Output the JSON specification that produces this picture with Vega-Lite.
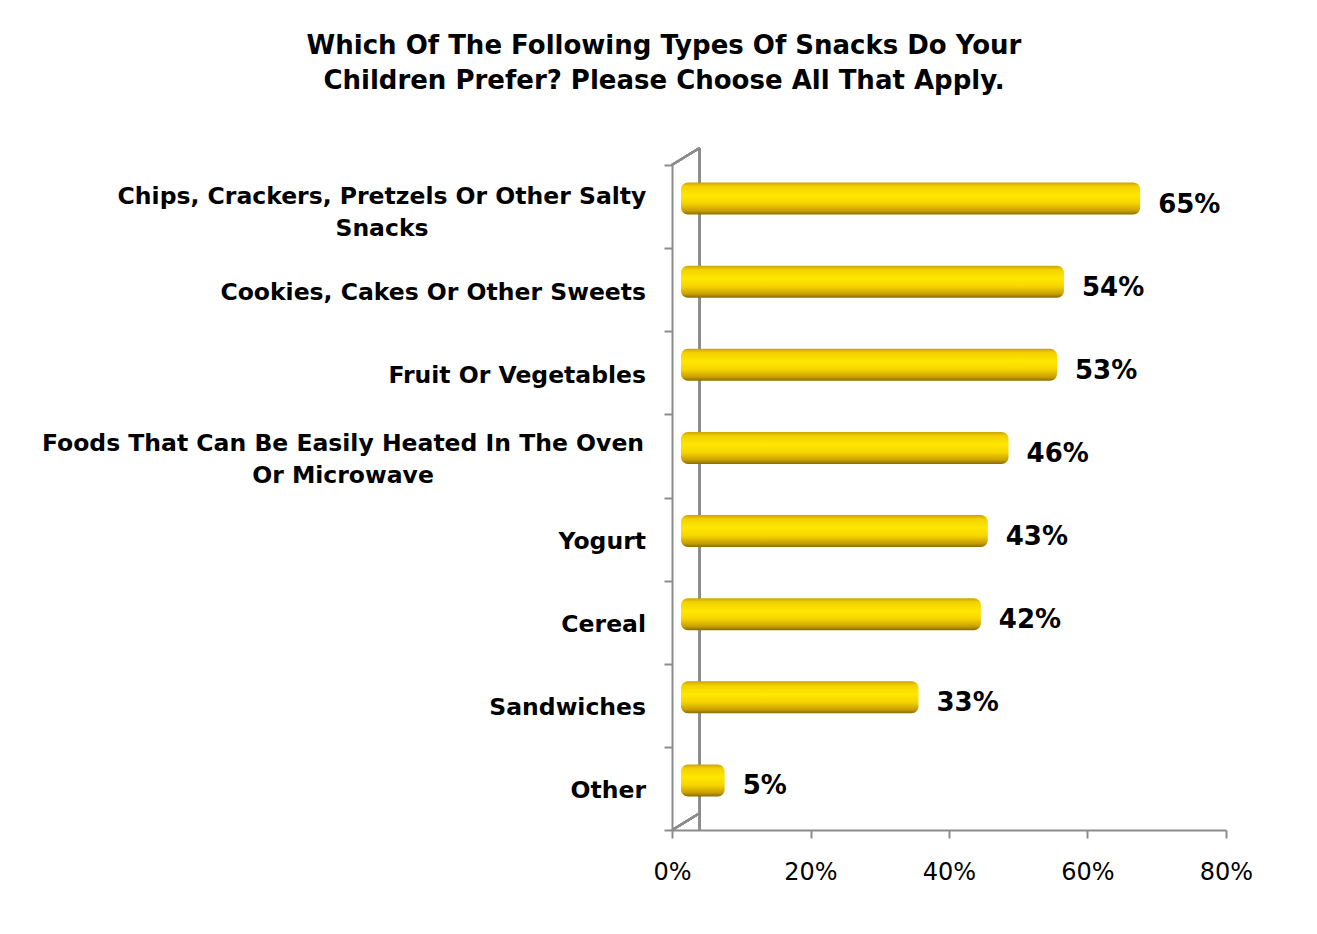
{
  "$schema": "https://vega.github.io/schema/vega-lite/v6.json",
  "width": 554,
  "height": 665,
  "autosize": {"type": "none"},
  "padding": {"left": 672, "top": 165, "right": 91, "bottom": 104},
  "background": "white",
  "title": {
    "text": ["Which Of The Following Types Of Snacks Do Your", "Children Prefer?  Please Choose All That Apply."],
    "font": "DejaVu Sans",
    "fontWeight": "bold",
    "fontSize": 26,
    "lineHeight": 35,
    "color": "black",
    "anchor": "middle",
    "frame": "group",
    "dx": -285,
    "offset": 53
  },
  "data": {
    "values": [
      {"category": "Chips, Crackers, Pretzels Or Other Salty Snacks", "label": "Chips, Crackers, Pretzels Or Other Salty\nSnacks", "share": 0.65},
      {"category": "Cookies, Cakes Or Other Sweets", "label": "Cookies, Cakes Or Other Sweets", "share": 0.54},
      {"category": "Fruit Or Vegetables", "label": "Fruit Or Vegetables", "share": 0.53},
      {"category": "Foods That Can Be Easily Heated In The Oven Or Microwave", "label": "Foods That Can Be Easily Heated In The Oven\nOr Microwave", "share": 0.46},
      {"category": "Yogurt", "label": "Yogurt", "share": 0.43},
      {"category": "Cereal", "label": "Cereal", "share": 0.42},
      {"category": "Sandwiches", "label": "Sandwiches", "share": 0.33},
      {"category": "Other", "label": "Other", "share": 0.05}
    ]
  },
  "encoding": {
    "y": {
      "field": "category",
      "type": "nominal",
      "sort": null,
      "title": null,
      "scale": {
        "domain": ["Chips, Crackers, Pretzels Or Other Salty Snacks", "Cookies, Cakes Or Other Sweets", "Fruit Or Vegetables", "Foods That Can Be Easily Heated In The Oven Or Microwave", "Yogurt", "Cereal", "Sandwiches", "Other"],
        "paddingInner": 0,
        "paddingOuter": 0
      },
      "axis": {
        "labels": false,
        "domainColor": "#8c8c8c",
        "domainWidth": 2,
        "tickColor": "#8c8c8c",
        "tickWidth": 2,
        "tickSize": 8,
        "tickBand": "extent"
      }
    },
    "x": {
      "field": "share",
      "type": "quantitative",
      "title": null,
      "stack": null,
      "scale": {"domain": [0, 0.8], "nice": false},
      "axis": {
        "orient": "bottom",
        "values": [0, 0.2, 0.4, 0.6, 0.8],
        "format": ".0%",
        "grid": false,
        "labelFlush": false,
        "domainColor": "#8c8c8c",
        "domainWidth": 2,
        "tickColor": "#8c8c8c",
        "tickWidth": 2,
        "tickSize": 8,
        "labelFont": "DejaVu Sans",
        "labelFontSize": 24,
        "labelColor": "black",
        "labelPadding": 22
      }
    }
  },
  "layer": [
    {
      "mark": {"type": "rule", "color": "#8c8c8c", "strokeWidth": 2, "yOffset": -17},
      "encoding": {"x": {"datum": 0.04, "type": "quantitative"}, "y": null}
    },
    {
      "mark": {"type": "rule", "color": "#8c8c8c", "strokeWidth": 2, "yOffset": -41.6, "y2Offset": -58.6},
      "encoding": {
        "x": {"datum": 0, "type": "quantitative"},
        "x2": {"datum": 0.04},
        "y": {"datum": "Chips, Crackers, Pretzels Or Other Salty Snacks", "type": "nominal"},
        "y2": {"datum": "Chips, Crackers, Pretzels Or Other Salty Snacks"}
      }
    },
    {
      "mark": {"type": "rule", "color": "#8c8c8c", "strokeWidth": 2, "yOffset": 41.6, "y2Offset": 24.6},
      "encoding": {
        "x": {"datum": 0, "type": "quantitative"},
        "x2": {"datum": 0.04},
        "y": {"datum": "Other", "type": "nominal"},
        "y2": {"datum": "Other"}
      }
    },
    {
      "mark": {
        "type": "bar",
        "size": 32,
        "xOffset": 18,
        "x2Offset": 9,
        "yOffset": -8,
        "cornerRadius": 7,
        "color": {
          "gradient": "linear",
          "x1": 0, "y1": 0, "x2": 0, "y2": 1,
          "stops": [
            {"offset": 0, "color": "#c9a400"},
            {"offset": 0.12, "color": "#f2d000"},
            {"offset": 0.4, "color": "#ffe800"},
            {"offset": 0.65, "color": "#f6d400"},
            {"offset": 0.88, "color": "#c9a000"},
            {"offset": 1, "color": "#8a6c00"}
          ]
        }
      },
      "encoding": {
        "x2": {"datum": 0}
      }
    },
    {
      "mark": {
        "type": "text",
        "align": "left",
        "baseline": "middle",
        "dx": 36,
        "dy": -2,
        "font": "DejaVu Sans",
        "fontWeight": "bold",
        "fontSize": 26,
        "color": "black"
      },
      "encoding": {
        "text": {"field": "share", "type": "quantitative", "format": ".0%"}
      }
    },
    {
      "transform": [{"filter": "datum.label == datum.category"}],
      "mark": {
        "type": "text",
        "align": "right",
        "baseline": "middle",
        "dx": -26,
        "dy": 3,
        "font": "DejaVu Sans",
        "fontWeight": "bold",
        "fontSize": 23.5,
        "color": "black"
      },
      "encoding": {
        "x": {"datum": 0, "type": "quantitative"},
        "text": {"field": "label"}
      }
    },
    {
      "transform": [{"filter": "indexof(datum.category, 'Chips') == 0"}],
      "mark": {
        "type": "text",
        "align": "center",
        "baseline": "middle",
        "lineBreak": "\n",
        "lineHeight": 32,
        "dx": -290,
        "dy": -10,
        "font": "DejaVu Sans",
        "fontWeight": "bold",
        "fontSize": 23.5,
        "color": "black"
      },
      "encoding": {
        "x": {"datum": 0, "type": "quantitative"},
        "text": {"field": "label"}
      }
    },
    {
      "transform": [{"filter": "indexof(datum.category, 'Foods') == 0"}],
      "mark": {
        "type": "text",
        "align": "center",
        "baseline": "middle",
        "lineBreak": "\n",
        "lineHeight": 32,
        "dx": -329,
        "dy": -12,
        "font": "DejaVu Sans",
        "fontWeight": "bold",
        "fontSize": 23.5,
        "color": "black"
      },
      "encoding": {
        "x": {"datum": 0, "type": "quantitative"},
        "text": {"field": "label"}
      }
    }
  ],
  "config": {"view": {"stroke": null}}
}
